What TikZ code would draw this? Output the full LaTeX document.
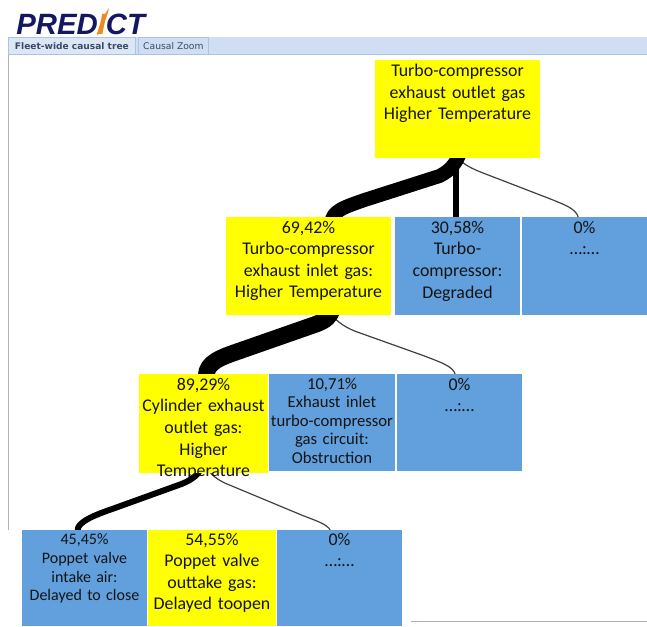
\documentclass[tikz,border=0pt]{standalone}
\usepackage{fontspec}
\usetikzlibrary{calc,backgrounds}
\setmainfont{Carlito}
\newfontfamily\logofont{Liberation Sans}
\newfontfamily\tabfont{DejaVu Sans}
\definecolor{boxblue}{HTML}{619FDD}
\definecolor{boxyellow}{HTML}{FFFF00}
\definecolor{logonavy}{HTML}{14185F}
\definecolor{logoorange}{HTML}{EE8A1E}
\definecolor{tabtext}{HTML}{3A4A66}
\definecolor{tabedge}{HTML}{A9C4E6}
\definecolor{tabfill}{HTML}{DCE7F6}
\definecolor{barfill}{HTML}{CFDEF3}
\definecolor{txt}{HTML}{141414}
\tikzset{
  x=0.75pt,y=-0.75pt,
  cell/.style={inner sep=0pt,outer sep=0pt,align=center,text=txt,font=\fontsize{13.4}{16.2}\selectfont,anchor=north west},
  hot/.style={cell,fill=boxyellow},
  cold/.style={cell,fill=boxblue},
  link/.style={draw=black,line cap=round,line join=round},
  faint/.style={draw=black!75,line width=0.9pt},
  tabbox/.style={draw=tabedge,line width=0.6pt,inner sep=0pt,anchor=north west,font=\tabfont\fontsize{6.9}{8}\selectfont,text=tabtext},
}
\newcommand{\cellbox}[8]{% style,name,x0,y0,x1,y1,text top offset,text
  \node[#1,minimum width=#5*0.75pt-#3*0.75pt,minimum height=#6*0.75pt-#4*0.75pt] (#2) at (#3,#4) {};
  \node[cell,anchor=north,text width=#5*0.75pt-#3*0.75pt] (#2t) at ($(#2.north)+(0,#7)$) {#8};
}
\begin{document}
\begin{tikzpicture}
\useasboundingbox (0,0) rectangle (647,626);
% header
\fill[barfill] (8,37) rectangle (647,54);
\draw[tabedge,line width=0.6pt] (8,54) -- (647,54);
\draw[black!30,line width=0.8pt] (8.5,54) -- (8.5,530);
\draw[black!30,line width=0.6pt] (411,621.5) -- (647,621.5);
\node[tabbox,fill=tabfill,font=\tabfont\bfseries\fontsize{6.8}{8}\selectfont,minimum width=127*0.75pt,minimum height=17*0.75pt] (tabone) at (8,37) {Fleet-wide causal tree};
\node[tabbox,fill=barfill,minimum width=70*0.75pt,minimum height=17*0.75pt] (tabtwo) at (138,37) {Causal Zoom};
\node[anchor=west,inner sep=0pt,font=\logofont\bfseries\itshape\fontsize{22}{24}\selectfont,text=logonavy] (logo) at (16,24) {PRED{\color{logoorange}I}CT};
\fill[logoorange] (97,34) .. controls (99,26) and (103,16) .. (109,8) .. controls (107,17) and (103,27) .. (98,35) -- cycle;
% boxes
\cellbox{hot}{root}{375}{60}{540}{158}{4}{Turbo-compressor\\exhaust outlet gas\\Higher Temperature}
\cellbox{hot}{a}{226}{217}{391}{315}{4}{69,42\%\\Turbo-compressor\\exhaust inlet gas:\\Higher Temperature}
\cellbox{cold}{b}{395}{217}{520}{315}{4}{30,58\%\\Turbo-\\compressor:\\Degraded}
\cellbox{cold}{c}{522}{217}{647}{315}{4}{0\%\\…:…}
\cellbox{hot}{d}{139}{374}{268}{473}{4}{89,29\%\\Cylinder exhaust\\outlet gas: Higher\\Temperature}
\node[cold,minimum width=126*0.75pt,minimum height=97*0.75pt] (e) at (269,374) {};
\node[cell,anchor=north,text width=126*0.75pt,font=\fontsize{12.5}{13.9}\selectfont] (et) at ($(e.north)+(0,4)$) {10,71\%\\Exhaust inlet\\turbo-compressor\\gas circuit:\\Obstruction};
\cellbox{cold}{f}{397}{374}{522}{471}{4}{0\%\\…:…}
\node[cold,minimum width=125*0.75pt,minimum height=96*0.75pt] (g) at (22,530) {};
\node[cell,anchor=north,text width=125*0.75pt,font=\fontsize{12}{14}\selectfont] (gt) at ($(g.north)+(0,4)$) {45,45\%\\Poppet valve\\intake air:\\Delayed to close};
\cellbox{hot}{h}{148}{530}{276}{626}{3}{54,55\%\\Poppet valve\\outtake gas:\\Delayed toopen}
\cellbox{cold}{i}{277}{530}{402}{626}{3}{0\%\\…:…}
% connectors (under the boxes, so that their ends tuck in behind them)
\begin{scope}[on background layer]
\draw[link,line width=4.5pt] ($(root.south)+(-1.5,-4)$) -- ($(b.north)+(-1.5,0)$ |- b.north);
\draw[faint] ($(root.south)+(0,-3)$) .. controls +(3,8) and +(-12,-5) .. ($(root.south)+(23,14)$) -- ($(c.north)+(-34,-18)$) .. controls +(15,6) and +(-2,-9) .. ($(c.north)+(-6,1)$);
\draw[link,line width=10.5pt] ($(root.south)+(3,-6)$) .. controls +(-4,10) and +(12,-6) .. ($(root.south)+(-18,18)$) -- ($(a.north)+(56,-17)$) .. controls +(-20,7) and +(0,-12) .. ($(a.north)+(23,6)$);
\draw[link,line width=2.2pt] ($(a.south)+(20.5,-2)$) -- ($(a.south)+(20.5,0)$ |- e.north);
\draw[faint] ($(a.south)+(22,-3)$) .. controls +(3,7) and +(-12,-5) .. ($(a.south)+(46,16)$) -- ($(f.north)+(-35,-18)$) .. controls +(15,6) and +(-2,-9) .. ($(f.north)+(-4,1)$);
\draw[link,line width=12.5pt] ($(a.south)+(24,-6)$) .. controls +(-3,8) and +(10,-4) .. ($(a.south)+(8,9)$) -- ($(d.north)+(30,-21)$) .. controls +(-20,7) and +(-2,-14) .. ($(d.north)+(3,6)$);
\draw[link,line width=12.75pt,line cap=butt] ($(d.south)+(0,-2)$) -- ($(d.south)+(0,0)$ |- h.north);
\draw[faint] ($(d.south)+(6,-2)$) .. controls +(2,5) and +(-8,-3) .. ($(d.south)+(26,12)$) -- ($(i.north)+(-38,-15)$) .. controls +(12,5) and +(-2,-7) .. ($(i.north)+(-9,1)$);
\draw[link,line width=4.5pt] ($(d.south)+(-4,-2)$) .. controls +(-2,4) and +(10,-4) .. ($(d.south)+(-22,11)$) -- ($(g.north)+(36,-24)$) .. controls +(-16,6) and +(-2,-12) .. ($(g.north)+(-7,2)$);
\end{scope}
\end{tikzpicture}
\end{document}
